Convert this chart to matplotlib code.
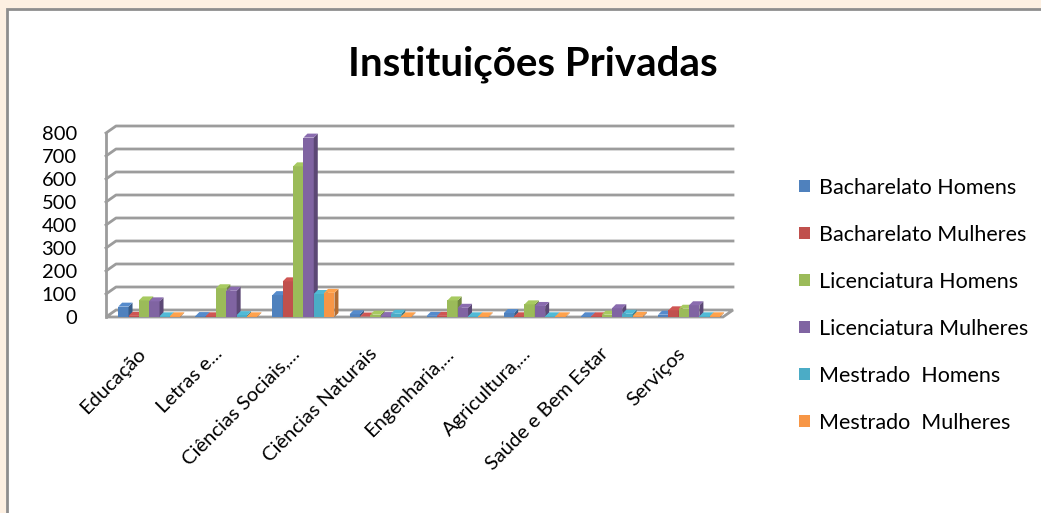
import matplotlib
matplotlib.use('Agg')
import matplotlib.pyplot as plt
import numpy as np
from matplotlib.patches import Polygon, Rectangle
from matplotlib.colors import to_rgb

plt.rcParams['font.family'] = ['Lato', 'DejaVu Sans']

categories = ['Educação', 'Letras e...', 'Ciências Sociais,...', 'Ciências Naturais',
              'Engenharia,...', 'Agricultura,...', 'Saúde e Bem Estar', 'Serviços']
series = ['Bacharelato Homens', 'Bacharelato Mulheres', 'Licenciatura Homens',
          'Licenciatura Mulheres', 'Mestrado  Homens', 'Mestrado  Mulheres']
bach_h = [45, 4, 95, 12, 5, 17, 3, 10]
bach_m = [5, 3, 155, 2, 5, 3, 3, 29]
lic_h = [72, 125, 655, 10, 72, 55, 10, 36]
lic_m = [68, 114, 780, 4, 40, 48, 38, 51]
mest_h = [3, 8, 100, 14, 3, 3, 14, 3]
mest_m = [3, 3, 105, 3, 3, 3, 5, 3]
values = [bach_h, bach_m, lic_h, lic_m, mest_h, mest_m]
colors = ['#4F81BD', '#C0504D', '#9BBB59', '#8064A2', '#4BACC6', '#F79646']
yticks = [0, 100, 200, 300, 400, 500, 600, 700, 800]

W, H = 1041, 513
fig = plt.figure(figsize=(W / 100, H / 100), dpi=100, facecolor='#FDF0E2')
fig.patches.append(Rectangle((7 / W, -0.1), 1.2, (H - 9) / H + 0.1, transform=fig.transFigure,
                             facecolor='white', edgecolor='#8E8E8E', lw=2, zorder=-1))

ax = fig.add_axes([106 / W, (H - 317) / H, (723 - 106) / W, (317 - 133) / H])
ax.set_xlim(-0.5, len(categories) - 0.5)
ax.set_ylim(0, 800)
ax.patch.set_alpha(0)
for s in ax.spines.values():
    s.set_visible(False)

# depth of the floor / walls in pixels
DX, DY = 10, 7
grid_c = '#9C9C9C'
x0, x1 = -0.5, len(categories) - 0.5
for t in yticks:
    (fx0, fy), = ax.transData.transform([(x0, t)])
    (fx1, _), = ax.transData.transform([(x1, t)])
    if t == 0:
        pts = [(fx0, fy), (fx1, fy), (fx1 + DX, fy + DY), (fx0 + DX, fy + DY)]
        floor = Polygon(pts, closed=True, transform=None, facecolor='white',
                        edgecolor=grid_c, lw=2, zorder=2, clip_on=False)
        ax.add_artist(floor)
    else:
        ax.plot([fx0, fx0 + DX, fx1 + DX], [fy, fy + DY, fy + DY], color=grid_c, lw=2,
                transform=None, clip_on=False, zorder=1)
(lx, ly0), (_, ly1) = ax.transData.transform([(x0, 0), (x0, 800)])
ax.plot([lx, lx], [ly0, ly1], color=grid_c, lw=2, transform=None, clip_on=False, zorder=1)

# bars with a simple 3d look
bw = 0.134
bd = 4
x = np.arange(len(categories))
z = 3
for ci in range(len(categories)):
    for si, vals in enumerate(values):
        xc = x[ci] + 0.06 + (si - 2.5) * bw
        ax.bar(xc, vals[ci], width=bw, color=colors[si], zorder=z, linewidth=0)
        (ax0, ay0), (ax1, ay1) = ax.transData.transform([(xc - bw / 2, 0), (xc + bw / 2, vals[ci])])
        base = np.array(to_rgb(colors[si]))
        side = [(ax1, ay0), (ax1 + bd, ay0 + bd), (ax1 + bd, ay1 + bd), (ax1, ay1)]
        top = [(ax0, ay1), (ax0 + bd, ay1 + bd), (ax1 + bd, ay1 + bd), (ax1, ay1)]
        ax.add_artist(Polygon(side, closed=True, transform=None, clip_on=False,
                              facecolor=base * 0.72, lw=0, zorder=z))
        ax.add_artist(Polygon(top, closed=True, transform=None, clip_on=False,
                              facecolor=np.minimum(base * 1.08, 1), lw=0, zorder=z))
        z += 1

ax.set_yticks(yticks)
ax.set_yticklabels([str(t) for t in yticks], fontsize=14.5)
ax.tick_params(axis='y', length=0, pad=21)

label_pos = x - 0.1
ax.set_xticks(label_pos)
ax.set_xticklabels(categories, rotation=45, ha='right', rotation_mode='anchor', fontsize=14.5)
ax.tick_params(axis='x', length=0, pad=20)

fig.text(0.512, 0.875, 'Instituições Privadas', ha='center', va='center',
         fontsize=29, fontweight='bold', color='black')

handles = [Rectangle((0, 0), 1, 1, facecolor=c, edgecolor='none') for c in colors]
fig.legend(handles, series, loc='upper left', bbox_to_anchor=(799 / W, (H - 178) / H),
           frameon=False, fontsize=15.5, handlelength=0.5, handleheight=0.5,
           handletextpad=0.45, labelspacing=1.25, borderaxespad=0, borderpad=0)

fig.savefig('out.png', dpi=100, facecolor=fig.get_facecolor())
